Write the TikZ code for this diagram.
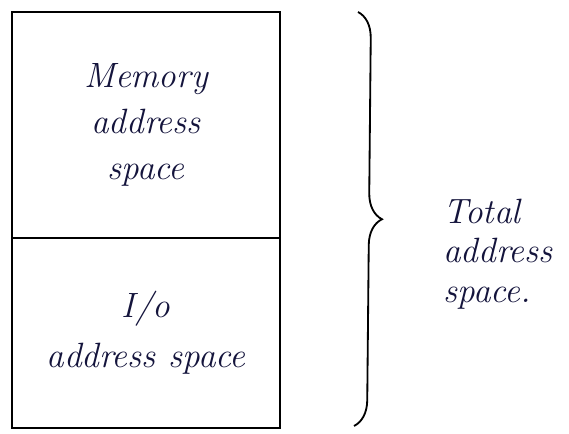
\documentclass[tikz,border=0pt]{standalone}
\usepackage{tikz}
\usetikzlibrary{decorations.pathreplacing, positioning, calc}
\definecolor{ink}{RGB}{20,20,60}

\begin{document}
\begin{tikzpicture}[
    % Styles
    part/.style={rectangle, draw=black, line width=1.4pt, minimum width=6.7cm, align=center, inner sep=0pt, font=\fontsize{25}{33}\selectfont\itshape, text=ink},
    brace/.style={decorate, decoration={brace, amplitude=0.65cm}, line width=1.3pt},
    label/.style={align=left, font=\fontsize{25}{28}\selectfont\itshape, text=ink},
]
\useasboundingbox (0,0) rectangle (14.225,10.85);

% === ADDRESS SPACES (Left) ===
\node[part, minimum height=5.65cm] (mem) at (3.65,7.725) {Memory\\address\\space};
\node[part, minimum height=4.75cm, below=-1.4pt of mem] (io) {I/o\\[0.1cm]address space};

% === TOTAL (Right) ===
\coordinate (btop) at (8.95,10.55);
\coordinate (bbot) at (8.85,0.2);
\draw[brace] (btop) -- (bbot);
\node[label] (total) at (12.45,4.5) {Total\\address\\space.};

\end{tikzpicture}
\end{document}
